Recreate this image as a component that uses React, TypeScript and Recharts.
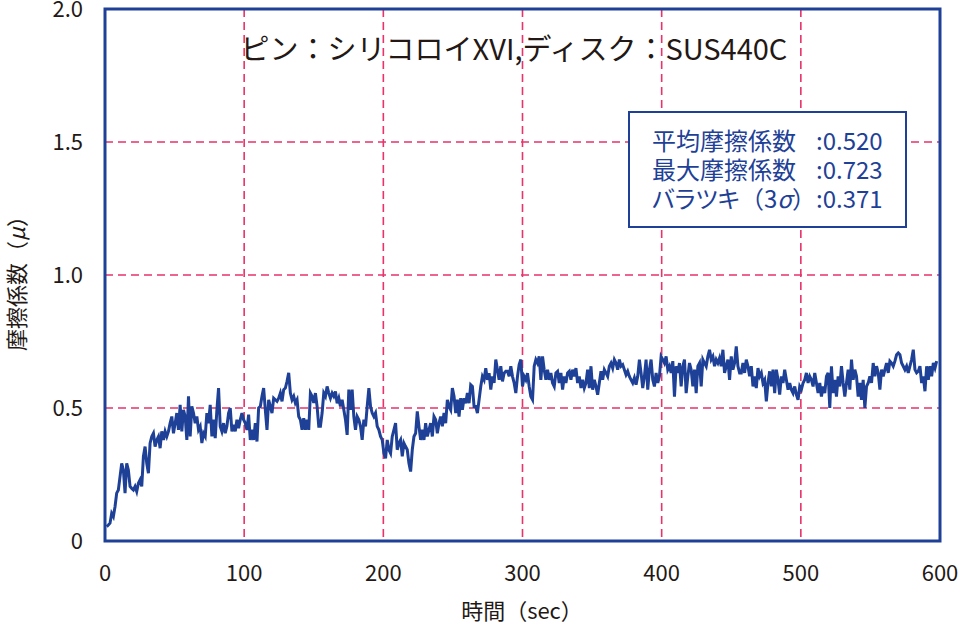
import React from "react";
import { LineChart, Line, XAxis, YAxis, CartesianGrid, ReferenceArea } from "recharts";

const SAMPLE_INTERVAL = 1.2; // seconds between samples

// friction coefficient readings (μ), one per sample
const mu: number[] = [
  0.054, 0.06, 0.067, 0.104, 0.092, 0.129, 0.18, 0.192, 0.242, 0.292,
  0.267, 0.18, 0.292, 0.267, 0.205, 0.198, 0.192, 0.205, 0.186, 0.217,
  0.23, 0.205, 0.318, 0.355, 0.292, 0.255, 0.368, 0.393, 0.405, 0.355,
  0.38, 0.393, 0.349, 0.412, 0.38, 0.412, 0.393, 0.412, 0.443, 0.468,
  0.405, 0.443, 0.481, 0.418, 0.512, 0.412, 0.493, 0.468, 0.38, 0.544,
  0.393, 0.506, 0.481, 0.443, 0.468, 0.418, 0.431, 0.368, 0.405, 0.393,
  0.481, 0.443, 0.512, 0.393, 0.456, 0.387, 0.493, 0.575, 0.431, 0.412,
  0.443, 0.405, 0.431, 0.481, 0.5, 0.412, 0.437, 0.412, 0.456, 0.424,
  0.456, 0.481, 0.456, 0.443, 0.418, 0.475, 0.38, 0.418, 0.38, 0.443,
  0.374, 0.5, 0.506, 0.544, 0.575, 0.493, 0.418, 0.531, 0.506, 0.481,
  0.537, 0.531, 0.525, 0.537, 0.556, 0.525, 0.569, 0.575, 0.6, 0.632,
  0.556, 0.531, 0.544, 0.519, 0.531, 0.468, 0.456, 0.418, 0.462, 0.418,
  0.456, 0.418, 0.556, 0.544, 0.519, 0.556, 0.506, 0.431,
  0.431, 0.481, 0.556, 0.544, 0.581, 0.556, 0.537, 0.556, 0.544, 0.562,
  0.518, 0.537, 0.506, 0.531, 0.493, 0.456, 0.399, 0.569, 0.493, 0.569,
  0.468, 0.418, 0.468, 0.456, 0.431, 0.38, 0.456, 0.431, 0.506, 0.575,
  0.506, 0.481, 0.468, 0.481, 0.431, 0.418, 0.393, 0.38, 0.33, 0.311,
  0.38, 0.343, 0.33, 0.393, 0.418, 0.443, 0.343, 0.368, 0.38, 0.318,
  0.368, 0.355, 0.343, 0.292, 0.261, 0.343, 0.393, 0.405, 0.487, 0.431,
  0.38, 0.418, 0.38, 0.443, 0.393, 0.418, 0.443, 0.393, 0.468, 0.456,
  0.405, 0.443, 0.468, 0.431, 0.481, 0.443, 0.531, 0.506, 0.493, 0.575,
  0.544, 0.481, 0.531, 0.468, 0.537, 0.493, 0.537, 0.518, 0.556, 0.518,
  0.587, 0.581, 0.506, 0.506, 0.481, 0.531, 0.581, 0.619, 0.606, 0.65,
  0.606, 0.631, 0.569, 0.619, 0.594, 0.682, 0.644, 0.606, 0.657, 0.6,
  0.631, 0.638, 0.638, 0.619, 0.657, 0.619, 0.594, 0.556, 0.619, 0.663,
  0.682, 0.581, 0.619, 0.606, 0.631, 0.581,
  0.543, 0.531, 0.657, 0.682, 0.669, 0.694, 0.606, 0.694, 0.644, 0.606,
  0.644, 0.606, 0.632, 0.594, 0.581, 0.632, 0.638, 0.594, 0.632, 0.569,
  0.619, 0.594, 0.632, 0.638, 0.606, 0.644, 0.619, 0.65, 0.594, 0.619,
  0.575, 0.606, 0.575, 0.594, 0.644, 0.575, 0.657, 0.569, 0.606, 0.581,
  0.55, 0.594, 0.638, 0.606, 0.644, 0.632, 0.619, 0.657, 0.669, 0.65,
  0.682, 0.669, 0.644, 0.682, 0.657, 0.663, 0.644, 0.625, 0.638, 0.619,
  0.606, 0.594, 0.613, 0.588, 0.619, 0.682, 0.632, 0.575, 0.619, 0.682,
  0.569, 0.644, 0.682, 0.606, 0.581, 0.632, 0.594, 0.619, 0.694, 0.682,
  0.669, 0.694, 0.644, 0.657, 0.632, 0.676, 0.543, 0.657, 0.632, 0.669,
  0.581, 0.657, 0.682, 0.556, 0.619, 0.669, 0.644, 0.581, 0.644, 0.556,
  0.657, 0.669, 0.581, 0.682, 0.669, 0.657, 0.694, 0.719, 0.682, 0.694,
  0.657, 0.682, 0.669, 0.688, 0.657, 0.719, 0.632, 0.657, 0.682, 0.606,
  0.694, 0.644, 0.669, 0.732, 0.657, 0.632,
  0.632, 0.669, 0.632, 0.682, 0.657, 0.619, 0.657, 0.581, 0.619, 0.575,
  0.65, 0.619, 0.632, 0.594, 0.606, 0.525, 0.594, 0.638, 0.581, 0.644,
  0.556, 0.644, 0.606, 0.55, 0.619, 0.594, 0.644, 0.606, 0.569, 0.594,
  0.569, 0.556, 0.581, 0.55, 0.531, 0.581, 0.569, 0.594, 0.606, 0.632,
  0.594, 0.619, 0.606, 0.581, 0.632, 0.594, 0.556, 0.594, 0.543, 0.581,
  0.556, 0.619, 0.632, 0.5, 0.657, 0.556, 0.606, 0.543, 0.619, 0.581,
  0.657, 0.594, 0.543, 0.594, 0.644, 0.569, 0.682, 0.606, 0.644, 0.619,
  0.543, 0.594, 0.531, 0.606, 0.5, 0.581, 0.594, 0.619, 0.594, 0.669,
  0.619, 0.657, 0.632, 0.569, 0.644, 0.619, 0.644, 0.669, 0.632, 0.676,
  0.669, 0.657, 0.676, 0.7, 0.707, 0.7, 0.669, 0.657, 0.644, 0.657,
  0.632, 0.657, 0.682, 0.719, 0.644, 0.632, 0.638, 0.657, 0.594, 0.619,
  0.563, 0.657, 0.606, 0.657, 0.619, 0.669, 0.65, 0.676,
];

const xTicks = [0, 100, 200, 300, 400, 500, 600];
const yTicks = [0, 0.5, 1.0, 1.5, 2.0];
const yTickLabels = ["0", "0.5", "1.0", "1.5", "2.0"];

const title = "ピン：シリコロイXVI,ディスク：SUS440C";
const statLabels = ["平均摩擦係数", "最大摩擦係数", "バラツキ"];
const statValues = ["0.520", "0.723", "0.371"];

const data = mu.map((v, i) => ({ t: SAMPLE_INTERVAL * (i + 1), mu: v }));

const FONT = '"Noto Sans CJK JP", "Noto Sans", sans-serif';
const BLUE = "#1e4197";
const GRID = "#e8336b";
const TEXT = "#231815";

export default function App() {
  return (
    <div
      style={{
        position: "absolute",
        left: 0,
        top: 0,
        width: 962,
        height: 627,
        background: "#fff",
        fontFamily: FONT,
        overflow: "hidden",
      }}
    >
      <LineChart
        width={962}
        height={627}
        data={data}
        margin={{ top: 9, right: 22, bottom: 26, left: 0 }}
        style={{ fontFamily: FONT }}
      >
        <CartesianGrid stroke={GRID} strokeDasharray="8 5" strokeWidth={1.6} />
        <XAxis
          type="number"
          dataKey="t"
          domain={[0, 600]}
          ticks={xTicks}
          interval={0}
          tickLine={false}
          axisLine={false}
          tickSize={0}
          tickMargin={24}
          height={60}
          tick={{ fontSize: 22, fill: TEXT, fontFamily: FONT }}
        />
        <YAxis
          type="number"
          domain={[0, 2]}
          ticks={yTicks}
          interval={0}
          tickFormatter={(v: number) => yTickLabels[yTicks.indexOf(v)] ?? String(v)}
          tickLine={false}
          axisLine={false}
          tickSize={0}
          tickMargin={22}
          width={105}
          tick={{ fontSize: 22, fill: TEXT, fontFamily: FONT }}
        />
        <Line
          type="linear"
          dataKey="mu"
          stroke={BLUE}
          strokeWidth={3}
          dot={false}
          isAnimationActive={false}
        />
        <ReferenceArea
          x1={0}
          x2={600}
          y1={0}
          y2={2}
          fill="none"
          fillOpacity={0}
          stroke={BLUE}
          strokeWidth={3}
          ifOverflow="visible"
        />
      </LineChart>
      <svg
        width={962}
        height={627}
        style={{ position: "absolute", left: 0, top: 0, pointerEvents: "none", fontFamily: FONT }}
      >
        <text x={514} y={60} textAnchor="middle" fontSize={29} fill={TEXT}>
          {title}
        </text>
        <text x={522} y={619} textAnchor="middle" fontSize={22} fill={TEXT}>
          時間（sec）
        </text>
        <text
          x={0}
          y={0}
          transform="translate(25,278) rotate(-90)"
          textAnchor="middle"
          fontSize={22}
          fill={TEXT}
        >
          摩擦係数（<tspan fontStyle="italic">μ</tspan>）
        </text>
      </svg>
      <div
        style={{
          position: "absolute",
          left: 628,
          top: 111,
          width: 279,
          height: 117,
          background: "#fff",
          border: `2.5px solid ${BLUE}`,
          color: BLUE,
          fontSize: 24,
          lineHeight: "29px",
          paddingTop: 12,
          boxSizing: "border-box",
        }}
      >
        {statLabels.map((s, i) => (
          <div key={s} style={{ position: "relative", height: 29, whiteSpace: "nowrap" }}>
            <span style={{ position: "absolute", left: 22, top: 0 }}>
              {i === 2 ? (
                <>
                  <span style={{ fontFeatureSettings: '"palt"' }}>{s}</span>（3<i>σ</i>）
                </>
              ) : (
                s
              )}
            </span>
            <span style={{ position: "absolute", left: 186, top: 0 }}>:{statValues[i]}</span>
          </div>
        ))}
      </div>
    </div>
  );
}
